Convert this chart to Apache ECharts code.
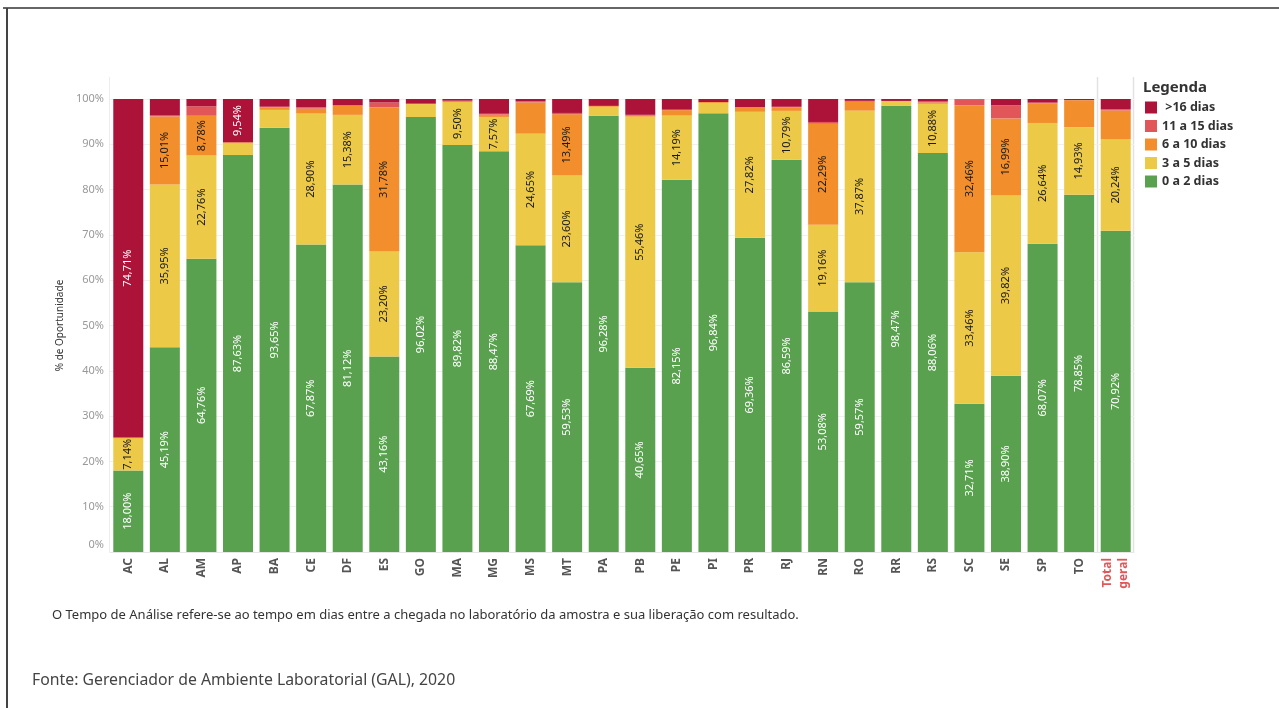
<!DOCTYPE html>
<html lang="pt-BR">
<head>
<meta charset="utf-8">
<title>Tempo de Análise por UF</title>
<script src="https://cdn.jsdelivr.net/npm/echarts@6/dist/echarts.min.js"></script>
<style>
  html, body { margin: 0; padding: 0; background: #fff; }
  #chart { width: 1279px; height: 708px; }
</style>
</head>
<body>
<div id="chart"></div>
<script>
// Unidades federativas (e total geral)
const categories = ['AC','AL','AM','AP','BA','CE','DF','ES','GO','MA','MG','MS','MT','PA','PB','PE','PI','PR','RJ','RN','RO','RR','RS','SC','SE','SP','TO','Total\ngeral'];

// % de oportunidade por faixa de tempo de análise
const dias0a2   = [18.00,45.19,64.76,87.63,93.65,67.87,81.12,43.16,96.02,89.82,88.47,67.69,59.53,96.28,40.65,82.15,96.84,69.36,86.59,53.08,59.57,98.47,88.06,32.71,38.90,68.07,78.85,70.92];
const dias3a5   = [7.14,35.95,22.76,2.55,3.95,28.90,15.38,23.20,2.85,9.50,7.57,24.65,23.60,2.00,55.46,14.19,2.30,27.82,10.79,19.16,37.87,1.00,10.88,33.46,39.82,26.64,14.93,20.24];
const dias6a10  = [0.10,15.01,8.78,0.25,0.55,1.10,2.05,31.78,0.10,0.30,0.50,6.90,13.49,0.20,0.20,1.20,0.20,0.90,0.80,22.29,1.95,0.10,0.30,32.46,16.99,4.30,5.95,6.30];
const dias11a15 = [0.05,0.20,2.10,0.03,0.15,0.30,0.05,1.10,0.00,0.00,0.20,0.25,0.30,0.00,0.20,0.10,0.00,0.15,0.10,0.40,0.20,0.00,0.20,1.30,2.90,0.20,0.05,0.30];
const dias16    = [74.71,3.65,1.60,9.54,1.70,1.83,1.40,0.76,1.03,0.38,3.26,0.51,3.08,1.52,3.49,2.36,0.66,1.77,1.72,5.07,0.41,0.43,0.56,0.07,1.39,0.79,0.22,2.24];

const yTicks = [0,10,20,30,40,50,60,70,80,90,100];

const FONT = '"Noto Sans", "Open Sans", sans-serif';
const fmtPct = v => v.toFixed(2).replace('.', ',') + '%';

function makeSeries(name, values, color, labelColor) {
  return {
    name: name,
    type: 'bar',
    stack: 'total',
    barWidth: 30,
    itemStyle: { color: color },
    label: {
      show: true,
      position: 'inside',
      rotate: 90,
      color: labelColor,
      fontFamily: FONT,
      fontSize: 11,
      formatter: p => fmtPct(p.value)
    },
    data: values.map(v => ({ value: v, label: { show: v >= 7 } }))
  };
}

const chart = echarts.init(document.getElementById('chart'), null, { renderer: 'canvas' });

chart.setOption({
  backgroundColor: '#ffffff',
  animation: false,
  grid: { left: 110, right: 145, top: 99, bottom: 156 },
  legend: {
    orient: 'vertical',
    left: 1145,
    top: 101,
    padding: 0,
    itemWidth: 12,
    itemHeight: 12,
    itemGap: 5.5,
    itemTextGap: 5,
    icon: 'rect',
    data: ['>16 dias', '11 a 15 dias', '6 a 10 dias', '3 a 5 dias', '0 a 2 dias'],
    formatter: n => n === '>16 dias' ? ' >16 dias' : n,
    textStyle: { fontFamily: FONT, fontSize: 12.5, fontWeight: 'bold', color: '#333' }
  },
  xAxis: {
    type: 'category',
    data: categories,
    axisTick: { show: false },
    axisLine: { lineStyle: { color: '#e6e6e6' } },
    axisLabel: {
      rotate: 90,
      margin: 6,
      interval: 0,
      fontFamily: FONT,
      fontSize: 12,
      fontWeight: 'bold',
      lineHeight: 16,
      color: (v) => v.indexOf('Total') === 0 ? '#e15759' : '#555'
    }
  },
  yAxis: {
    type: 'value',
    min: 0,
    max: 100,
    interval: 10,
    name: '% de Oportunidade',
    nameLocation: 'middle',
    nameGap: 45,
    nameTextStyle: { fontFamily: FONT, fontSize: 10, color: '#333' },
    axisLine: { show: false },
    axisTick: { show: false },
    splitLine: { lineStyle: { color: '#f0f0f0' } },
    axisLabel: {
      fontFamily: FONT,
      fontSize: 11,
      color: '#999',
      margin: 6,
      formatter: v => yTicks.includes(v) ? (v === 0 ? '{z|0%}' : v + '%') : '',
      rich: { z: { fontFamily: FONT, fontSize: 11, color: '#999', padding: [0, 0, 14, 0] } }
    }
  },
  series: [
    makeSeries('0 a 2 dias', dias0a2, '#59a14f', '#ffffff'),
    makeSeries('3 a 5 dias', dias3a5, '#edc948', '#1a1a1a'),
    makeSeries('6 a 10 dias', dias6a10, '#f28e2b', '#1a1a1a'),
    makeSeries('11 a 15 dias', dias11a15, '#e15759', '#1a1a1a'),
    makeSeries('>16 dias', dias16, '#ad1238', '#ffffff')
  ],
  graphic: [
    // moldura do painel
    { type: 'line', shape: { x1: 3, y1: 8, x2: 1279, y2: 8 }, style: { stroke: '#666', lineWidth: 2 } },
    { type: 'line', shape: { x1: 7, y1: 8, x2: 7, y2: 708 }, style: { stroke: '#444', lineWidth: 2 } },
    // divisórias do painel do gráfico
    { type: 'line', shape: { x1: 109.5, y1: 77, x2: 109.5, y2: 552 }, style: { stroke: '#ececec', lineWidth: 1 } },
    { type: 'line', shape: { x1: 1097.5, y1: 77, x2: 1097.5, y2: 552 }, style: { stroke: '#e2e2e2', lineWidth: 1.5 } },
    { type: 'line', shape: { x1: 1133.5, y1: 77, x2: 1133.5, y2: 552 }, style: { stroke: '#e2e2e2', lineWidth: 1.5 } },
    // título da legenda
    { type: 'text', left: 1143, top: 80, style: { text: 'Legenda', fontFamily: FONT, fontSize: 15, fontWeight: 'bold', fill: '#333' } },
    // notas
    { type: 'text', left: 52, top: 609, style: { text: 'O Tempo de Análise refere-se ao tempo em dias entre a chegada no laboratório da amostra e sua liberação com resultado.', fontFamily: FONT, fontSize: 13, fill: '#333' } },
    { type: 'text', left: 32, top: 672, style: { text: 'Fonte: Gerenciador de Ambiente Laboratorial (GAL), 2020', fontFamily: FONT, fontSize: 15.8, fill: '#444' } }
  ]
});
</script>
</body>
</html>
